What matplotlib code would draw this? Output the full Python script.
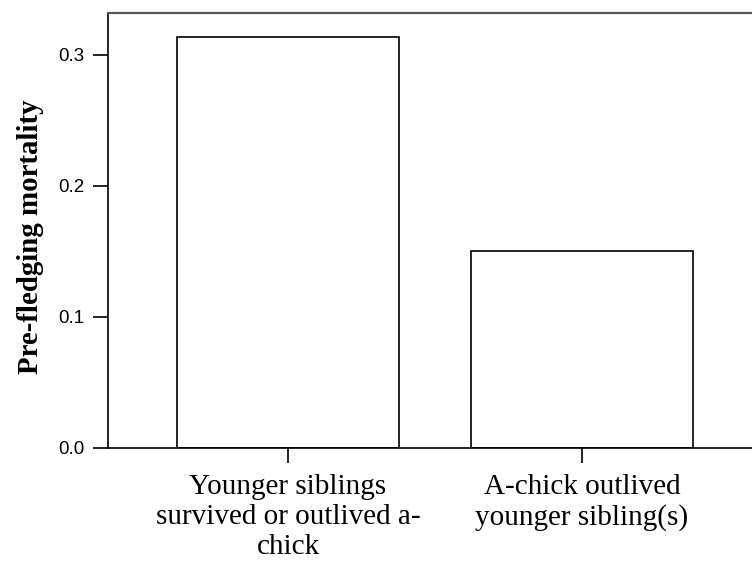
import matplotlib
matplotlib.use("Agg")
import matplotlib.pyplot as plt

categories = ["Younger siblings\nsurvived or outlived a-\nchick", "A-chick outlived\nyounger sibling(s)"]
values = [0.314, 0.150]
yticks = [0.0, 0.1, 0.2, 0.3]
ytick_labels = ["0.0", "0.1", "0.2", "0.3"]
ylabel = "Pre-fledging mortality"

fig = plt.figure(figsize=(7.52, 5.67), dpi=100)
ax = fig.add_axes([108/752, 1-448/567, (762-108)/752, (448-13)/567])

x = list(range(len(categories)))
ax.bar(x, values, width=0.755, color="white", edgecolor="black", linewidth=1.2)
ax.set_xlim(-0.612, 1.612)
ax.set_ylim(0, 0.332)
ax.set_xticks(x)
ax.set_xticklabels(categories, family="Liberation Serif", fontsize=21, linespacing=1.2)
ax.set_yticks(yticks)
ax.set_yticklabels(ytick_labels, family="Liberation Sans", fontsize=13.5)
ax.tick_params(axis="both", direction="out", length=11, width=1.2, color="black", pad=2)
ax.tick_params(axis="y", pad=6)
ax.tick_params(axis="x", pad=8)
for s in ax.spines.values():
    s.set_linewidth(1.2)
ax.spines["top"].set_color("#555555")
ax.spines["top"].set_linewidth(1.6)
ax.set_ylabel(ylabel, family="Liberation Serif", fontweight="bold", fontsize=20.8)
ax.yaxis.set_label_coords((44 - 108) / 654, (448 - 237) / 435)

fig.savefig("out.png", dpi=100)
